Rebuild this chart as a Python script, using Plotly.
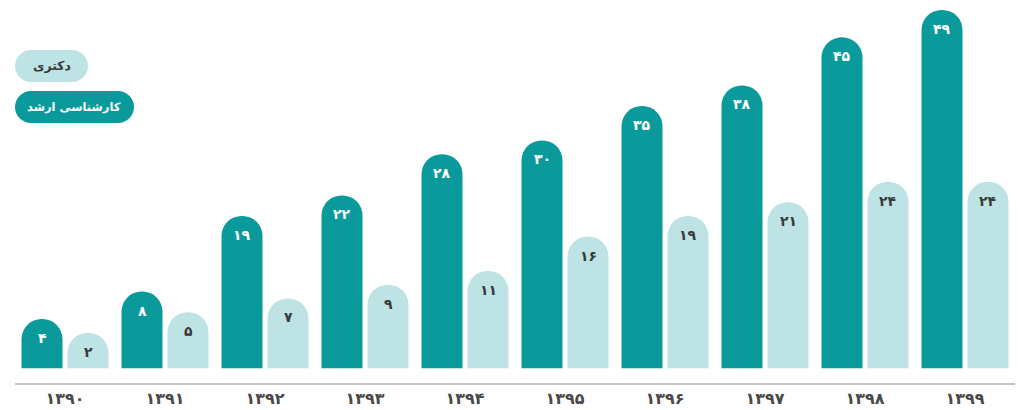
import plotly.graph_objects as go

# ---- data ----
years = ["۱۳۹۰", "۱۳۹۱", "۱۳۹۲", "۱۳۹۳", "۱۳۹۴", "۱۳۹۵", "۱۳۹۶", "۱۳۹۷", "۱۳۹۸", "۱۳۹۹"]
masters = [4, 8, 19, 22, 28, 30, 35, 38, 45, 49]    # کارشناسی ارشد
doctorate = [2, 5, 7, 9, 11, 16, 19, 21, 24, 24]    # دکتری
series_names = ["کارشناسی ارشد", "دکتری"]

# ---- style ----
DARK = "#0a9a9b"
LIGHT = "#bde3e4"
TXT_DARK = "#3a3a3a"
FONT = "DejaVu Sans"
CAP = 3.17  # extra bar height for the rounded cap (in axis units)

W, H = 1018, 410
ML, MR, MT, MB = 15, 3, 0, 27
PW, PH = W - ML - MR, H - MT - MB

PERSIAN = str.maketrans("0123456789", "۰۱۲۳۴۵۶۷۸۹")


def fa(n):
    return str(n).translate(PERSIAN)


fig = go.Figure()
fig.add_trace(go.Bar(x=years, y=[v + CAP for v in masters], name=series_names[0],
                     marker=dict(color=DARK, line=dict(width=0)), hoverinfo="skip"))
fig.add_trace(go.Bar(x=years, y=[v + CAP for v in doctorate], name=series_names[1],
                     marker=dict(color=LIGHT, line=dict(width=0)), hoverinfo="skip"))

annotations = []
for i, yr in enumerate(years):
    annotations.append(dict(x=yr, y=masters[i] + CAP, xref="x", yref="y", text="<b>" + fa(masters[i]) + "</b>",
                            showarrow=False, xshift=-23, yshift=-19, yanchor="middle",
                            font=dict(family=FONT, size=14, color="white")))
    annotations.append(dict(x=yr, y=doctorate[i] + CAP, xref="x", yref="y", text="<b>" + fa(doctorate[i]) + "</b>",
                            showarrow=False, xshift=23, yshift=-19, yanchor="middle",
                            font=dict(family=FONT, size=14, color=TXT_DARK)))


def px_x(p):
    return (p - ML) / PW


def px_y(p):
    return (MT + PH - p) / PH


shapes = []


def pill(x0, x1, y0, y1, color):
    r = (y1 - y0) / 2
    shapes.append(dict(type="rect", xref="paper", yref="paper", x0=px_x(x0 + r), x1=px_x(x1 - r),
                       y0=px_y(y1), y1=px_y(y0), fillcolor=color, line=dict(width=0), layer="above"))
    for cx in (x0 + r, x1 - r):
        shapes.append(dict(type="circle", xref="paper", yref="paper", x0=px_x(cx - r), x1=px_x(cx + r),
                           y0=px_y(y1), y1=px_y(y0), fillcolor=color, line=dict(width=0), layer="above"))


pill(15, 88, 50, 82, LIGHT)
pill(15, 134, 91, 123, DARK)
annotations.append(dict(x=px_x(52), y=px_y(66), xref="paper", yref="paper", text="<b>" + series_names[1] + "</b>",
                        showarrow=False, xanchor="center", yanchor="middle",
                        font=dict(family=FONT, size=12.5, color=TXT_DARK)))
annotations.append(dict(x=px_x(73.5), y=px_y(107), xref="paper", yref="paper", text="<b>" + series_names[0] + "</b>",
                        showarrow=False, xanchor="center", yanchor="middle",
                        font=dict(family=FONT, size=11.5, color="white")))

fig.update_layout(
    width=W, height=H,
    margin=dict(l=ML, r=MR, t=MT, b=MB),
    paper_bgcolor="white", plot_bgcolor="white",
    barmode="group", bargap=0.08, bargroupgap=0.109,
    barcornerradius="50%",
    showlegend=False,
    annotations=annotations,
    shapes=shapes,
    xaxis=dict(showline=True, linecolor="#c3c3c8", linewidth=2, ticks="", showgrid=False,
               tickfont=dict(family=FONT, size=16, color="#4a4a4a"), fixedrange=True,
               tickprefix="<b>", ticksuffix="</b>"),
    yaxis=dict(visible=False, range=[-2.14, 53.61], fixedrange=True),
)

fig.write_html("out.html", config={"displayModeBar": False},
               post_script="document.body.style.margin='0';document.body.style.overflow='hidden';")
